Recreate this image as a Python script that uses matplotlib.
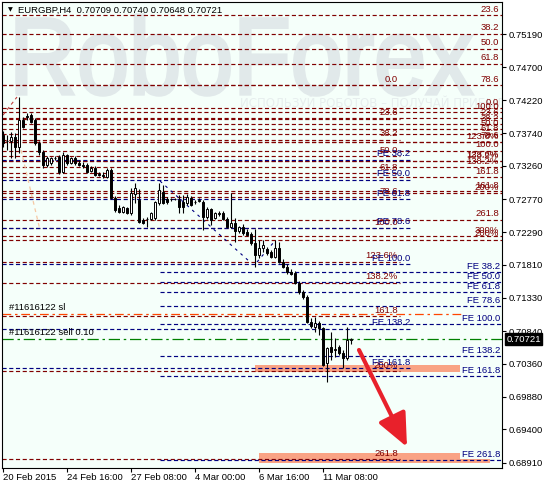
import matplotlib
matplotlib.use("Agg")
import matplotlib.pyplot as plt
import matplotlib.transforms as mtransforms
from matplotlib.textpath import TextPath
from matplotlib.patches import PathPatch, Rectangle, FancyArrowPatch
from matplotlib.font_manager import FontProperties
import numpy as np

# ---- data ----
title = "EURGBP,H4  0.70709 0.70740 0.70648 0.70721"

opens = [
    0.73712, 0.73624, 0.73624, 0.73683, 0.73536, 0.73931, 0.73990, 0.74004, 0.73931, 0.73595,
    0.73463, 0.73272, 0.73302, 0.73375, 0.73390, 0.73170, 0.73419, 0.73302, 0.73375, 0.73302,
    0.73272, 0.73272, 0.73185, 0.73229, 0.73141, 0.73126, 0.73097, 0.73199, 0.72789, 0.72643,
    0.72584, 0.72643, 0.72570, 0.72848, 0.72760, 0.72467, 0.72482, 0.72482, 0.72496, 0.72716,
    0.72877, 0.72774, 0.72774, 0.72770, 0.72760, 0.72730, 0.72716, 0.72789, 0.72730, 0.72745,
    0.72730, 0.72511, 0.72628, 0.72496, 0.72555, 0.72570, 0.72482, 0.72364, 0.72423, 0.72306,
    0.72364, 0.72291, 0.72262, 0.72130, 0.71955, 0.72057, 0.72042, 0.71999, 0.71926, 0.72057,
    0.71852, 0.71779, 0.71706, 0.71692, 0.71545, 0.71413, 0.71340, 0.70974, 0.70900, 0.70959,
    0.70886, 0.70374, 0.70608, 0.70564, 0.70608, 0.70520, 0.70447, 0.70709]
highs = [
    0.73770, 0.73712, 0.73756, 0.73741, 0.74268, 0.73975, 0.74034, 0.74034, 0.73961, 0.73624,
    0.73492, 0.73404, 0.73390, 0.73404, 0.73419, 0.73463, 0.73434, 0.73390, 0.73404, 0.73346,
    0.73316, 0.73302, 0.73258, 0.73258, 0.73170, 0.73170, 0.73229, 0.73229, 0.72818, 0.72687,
    0.72672, 0.72657, 0.72936, 0.73009, 0.72921, 0.72496, 0.72511, 0.72584, 0.72745, 0.73009,
    0.72980, 0.72804, 0.72789, 0.72789, 0.72833, 0.72833, 0.72848, 0.72818, 0.72760, 0.72789,
    0.72760, 0.72657, 0.72643, 0.72584, 0.72599, 0.72599, 0.72511, 0.72863, 0.72496, 0.72379,
    0.72408, 0.72335, 0.72291, 0.72335, 0.72174, 0.72174, 0.72072, 0.72028, 0.72174, 0.72145,
    0.71896, 0.71823, 0.71750, 0.71721, 0.71574, 0.71442, 0.71369, 0.71032, 0.71047, 0.70988,
    0.70900, 0.70608, 0.70827, 0.70740, 0.70637, 0.70564, 0.70900, 0.70740]
lows = [
    0.73536, 0.73492, 0.73375, 0.73375, 0.73448, 0.73814, 0.73931, 0.73887, 0.73565, 0.73419,
    0.73229, 0.73243, 0.73272, 0.73346, 0.73141, 0.73155, 0.73272, 0.73287, 0.73272, 0.73258,
    0.73229, 0.73155, 0.73170, 0.73112, 0.73112, 0.73082, 0.73082, 0.72774, 0.72584, 0.72570,
    0.72570, 0.72555, 0.72540, 0.72716, 0.72423, 0.72408, 0.72364, 0.72467, 0.72467, 0.72687,
    0.72701, 0.72701, 0.72745, 0.72760, 0.72570, 0.72570, 0.72687, 0.72672, 0.72701, 0.72730,
    0.72321, 0.72482, 0.72394, 0.72482, 0.72526, 0.72467, 0.72350, 0.72350, 0.72145, 0.72277,
    0.72248, 0.72233, 0.72101, 0.71779, 0.71911, 0.71999, 0.71955, 0.71911, 0.71911, 0.71838,
    0.71765, 0.71677, 0.71662, 0.71530, 0.71384, 0.71311, 0.70959, 0.70886, 0.70827, 0.70783,
    0.70330, 0.70096, 0.70418, 0.70461, 0.70491, 0.70301, 0.70418, 0.70648]
closes = [
    0.73595, 0.73630, 0.73683, 0.73536, 0.73931, 0.73829, 0.73975, 0.73902, 0.73595, 0.73463,
    0.73272, 0.73375, 0.73375, 0.73370, 0.73170, 0.73419, 0.73302, 0.73375, 0.73302, 0.73272,
    0.73258, 0.73170, 0.73229, 0.73126, 0.73126, 0.73112, 0.73199, 0.72789, 0.72614, 0.72584,
    0.72657, 0.72570, 0.72863, 0.72936, 0.72438, 0.72423, 0.72475, 0.72570, 0.72730, 0.72906,
    0.72716, 0.72730, 0.72770, 0.72774, 0.72657, 0.72657, 0.72804, 0.72687, 0.72725, 0.72760,
    0.72511, 0.72628, 0.72467, 0.72570, 0.72565, 0.72482, 0.72364, 0.72423, 0.72306, 0.72364,
    0.72277, 0.72248, 0.72130, 0.71955, 0.72057, 0.72101, 0.71984, 0.71926, 0.72057, 0.71852,
    0.71779, 0.71706, 0.71677, 0.71545, 0.71413, 0.71340, 0.70974, 0.70915, 0.70959, 0.70886,
    0.70344, 0.70593, 0.70535, 0.70579, 0.70520, 0.70447, 0.70710, 0.70721]

date_ticks = [0, 16, 32, 48, 64, 80]
date_labels = ["20 Feb 2015", "24 Feb 16:00", "27 Feb 08:00", "4 Mar 00:00",
               "6 Mar 16:00", "11 Mar 08:00"]
price_ticks = [0.75190, 0.74700, 0.74220, 0.73740, 0.73260, 0.72770, 0.72290,
               0.71810, 0.71330, 0.70840, 0.70360, 0.69880, 0.69400, 0.68910]

# fibonacci tools: price at 0% and at 100%
fib_a = (0.75908, 0.74044)
fib_a_levels = [23.6, 38.2, 50.0, 61.8, 78.6, 100.0, 123.6, 138.2, 161.8, 200.0]
fib_b = (0.74107, 0.73482)
fib_b_levels = [0.0, 23.6, 38.2, 50.0, 61.8, 78.6, 100.0, 123.6, 138.2, 161.8, 200.0, 261.8, 300.0]
fib_c = (0.74444, 0.72350)
fib_c_levels = [0.0, 23.6, 38.2, 50.0, 61.8, 78.6, 100.0, 123.6, 138.2, 161.8, 200.0, 261.8]
fib_d = (0.74297, 0.71823)
fib_d_levels = [38.2, 50.0, 61.8, 78.6, 100.0, 138.2, 161.8]
fib_fe = (0.72174, 0.70943)
fib_fe_levels = [38.2, 50.0, 61.8, 78.6, 100.0, 138.2, 161.8, 261.8]

stop_loss = 0.71091
order_price = 0.70721
last_price = 0.70721

zone_1 = (0.70242, 0.70344)
zone_2 = (0.68910, 0.69056)
zone_2b = (0.68910, 0.68968)

RED = "#800000"
BLUE = "#000080"
FONT = "Liberation Sans"
FS = 6.8

fig = plt.figure(figsize=(5.44, 4.86), dpi=100)
fig.patch.set_facecolor("white")
ax = fig.add_axes([2 / 544, 18 / 486, 500 / 544, 466 / 486])
ax.set_facecolor("#F5FFFA")
ax.set_xlim(-0.25, 124.75)
ax.set_ylim(0.68836, 0.75659)

# watermark
fp = FontProperties(family=FONT, weight="normal")
tp = TextPath((0, 0), "RoboForex", size=100, prop=fp)
ext = tp.get_extents()
sx = (472 - 17) / ext.width
sy = (95 - 15) / ext.height
tr = mtransforms.Affine2D().translate(-ext.x0, -ext.y0).scale(sx, sy).translate(17, 486 - 95)
wm = PathPatch(tp, transform=tr, facecolor="#E1E9EA", edgecolor="#E1E9EA", lw=2.5, zorder=0.2)
ax.add_artist(wm)
wm.set_clip_path(ax.patch)
ax.text((240 - 2) / 500, (468 - 103) / 466, "ИСПОЛЬЗУЙ РОБОТОВ – ПОЛУЧАЙ ПРИБЫЛЬ",
        transform=ax.transAxes, fontsize=8.5, color="#E7EEEE", family="DejaVu Sans",
        va="center", ha="left", zorder=0.3, clip_on=True)

# target zones
ax.add_patch(Rectangle((63, zone_1[0]), 114.25 - 63, zone_1[1] - zone_1[0],
                       fc="#F9A384", ec="none", zorder=0.8))
ax.add_patch(Rectangle((64, zone_2[0]), 114.25 - 64, zone_2[1] - zone_2[0],
                       fc="#F9A384", ec="none", zorder=0.8))
ax.add_patch(Rectangle((64, zone_2b[0]), 121.75 - 64, zone_2b[1] - zone_2b[0],
                       fc="#F9A384", ec="none", zorder=0.8))


def fib_text(r, prefix):
    if prefix:
        return prefix + f"{r:.1f}"
    if r in (123.6, 138.2, 200.0, 300.0):
        return f"{r:g}%"
    return f"{r:.1f}"


def draw_fib(anchors, levels, x0, x1, label_x, color, prefix=""):
    p0, p100 = anchors
    for r in levels:
        p = p0 + (p100 - p0) * r / 100
        ax.plot([x0, x1], [p, p], color=color, lw=0.85, ls=(0, (3.5, 2.2)), zorder=2)
        ax.annotate(fib_text(r, prefix), xy=(label_x, p), xytext=(0, 1),
                    textcoords="offset points", ha="right", va="bottom",
                    color=color, fontsize=FS, family=FONT, zorder=6)


draw_fib(fib_a, fib_a_levels, -0.25, 124.75, 124.0, RED)
draw_fib(fib_b, fib_b_levels, -0.25, 124.75, 124.0, RED)
draw_fib(fib_c, fib_c_levels, -0.25, 99.25, 98.75, RED)
draw_fib(fib_d, fib_d_levels, -0.25, 101.75, 101.75, BLUE, "FE ")
draw_fib(fib_fe, fib_fe_levels, 39.25, 124.75, 124.25, BLUE, "FE ")

# fib trend lines
ax.plot([0, 3.5], [0.74004, 0.74268], color="#C04040", lw=0.8, ls=(0, (3, 3)), zorder=2)
ax.plot([4.5, 9.25], [0.73492, 0.72321], color="#F5C9A6", lw=0.9, ls=(0, (3, 3)), zorder=2)
ax.plot([39.25, 61.75], [0.73038, 0.71852], color=BLUE, lw=0.8, ls=(0, (2.5, 4)), zorder=2)
ax.plot([63.5, 67.75], [0.71852, 0.72145], color=BLUE, lw=0.8, ls=(0, (2.5, 4)), zorder=2)

# order lines
ax.plot([-0.25, 114.75], [stop_loss, stop_loss], color="#FF4500", lw=0.9,
        ls=(0, (7, 3, 2, 3)), zorder=2.5)
ax.annotate("#11616122 sl", xy=(1.5, stop_loss), xytext=(0, 1.5), textcoords="offset points",
            ha="left", va="bottom", fontsize=FS, family=FONT, color="black", zorder=6)
ax.axhline(order_price, color="#008000", lw=0.9, ls=(0, (9, 3, 2, 3)), zorder=2.5)
ax.annotate("#11616122 sell 0.10", xy=(1.5, order_price), xytext=(0, 1.5),
            textcoords="offset points", ha="left", va="bottom", fontsize=FS,
            family=FONT, color="black", zorder=6)

# candles
o = np.array(opens)
h = np.array(highs)
l = np.array(lows)
c = np.array(closes)
x = np.arange(len(o))
up = c >= o
ax.vlines(x, l, h, color="black", lw=0.8, zorder=3)
ax.bar(x, np.abs(c - o), bottom=np.minimum(o, c), width=0.6,
       color=np.where(up, "white", "black"), edgecolor="black", linewidth=0.7, zorder=4)

# forecast arrow
arrow = FancyArrowPatch((89, 0.70564), (101, 0.69144),
                        arrowstyle="-|>,head_length=0.45,head_width=0.2",
                        mutation_scale=45, color="#E8212B", lw=3.0,
                        shrinkA=0, shrinkB=0, zorder=7)
ax.add_patch(arrow)

# axes
for s in ax.spines.values():
    s.set_color("black")
    s.set_linewidth(0.8)
ax.yaxis.tick_right()
ax.set_yticks(price_ticks)
ax.set_yticklabels([f"{p:.5f}" for p in price_ticks], family=FONT, fontsize=FS)
ax.set_xticks(date_ticks)
ax.set_xticklabels(date_labels, family=FONT, fontsize=FS)
for lab in ax.get_xticklabels():
    lab.set_ha("left")
ax.tick_params(axis="y", direction="out", length=3, width=0.8, pad=1.5)
ax.tick_params(axis="x", direction="out", length=3, width=0.8, pad=0.5)

ax.annotate(f"{last_price:.5f}", xy=(1, last_price), xycoords=("axes fraction", "data"),
            xytext=(3, 0), textcoords="offset points", ha="left", va="center",
            color="white", fontsize=FS, family=FONT, annotation_clip=False,
            bbox=dict(boxstyle="square,pad=0.15", fc="black", ec="black"), zorder=8)

ax.text(0.032, 0.983, title, transform=ax.transAxes, ha="left", va="center",
        fontsize=FS, family=FONT, color="black", zorder=8)
ax.text(0.011, 0.983, "▼", transform=ax.transAxes, ha="left", va="center",
        fontsize=4.5, family="DejaVu Sans", color="black", zorder=8)

fig.savefig("out.png", dpi=100, facecolor=fig.get_facecolor())
